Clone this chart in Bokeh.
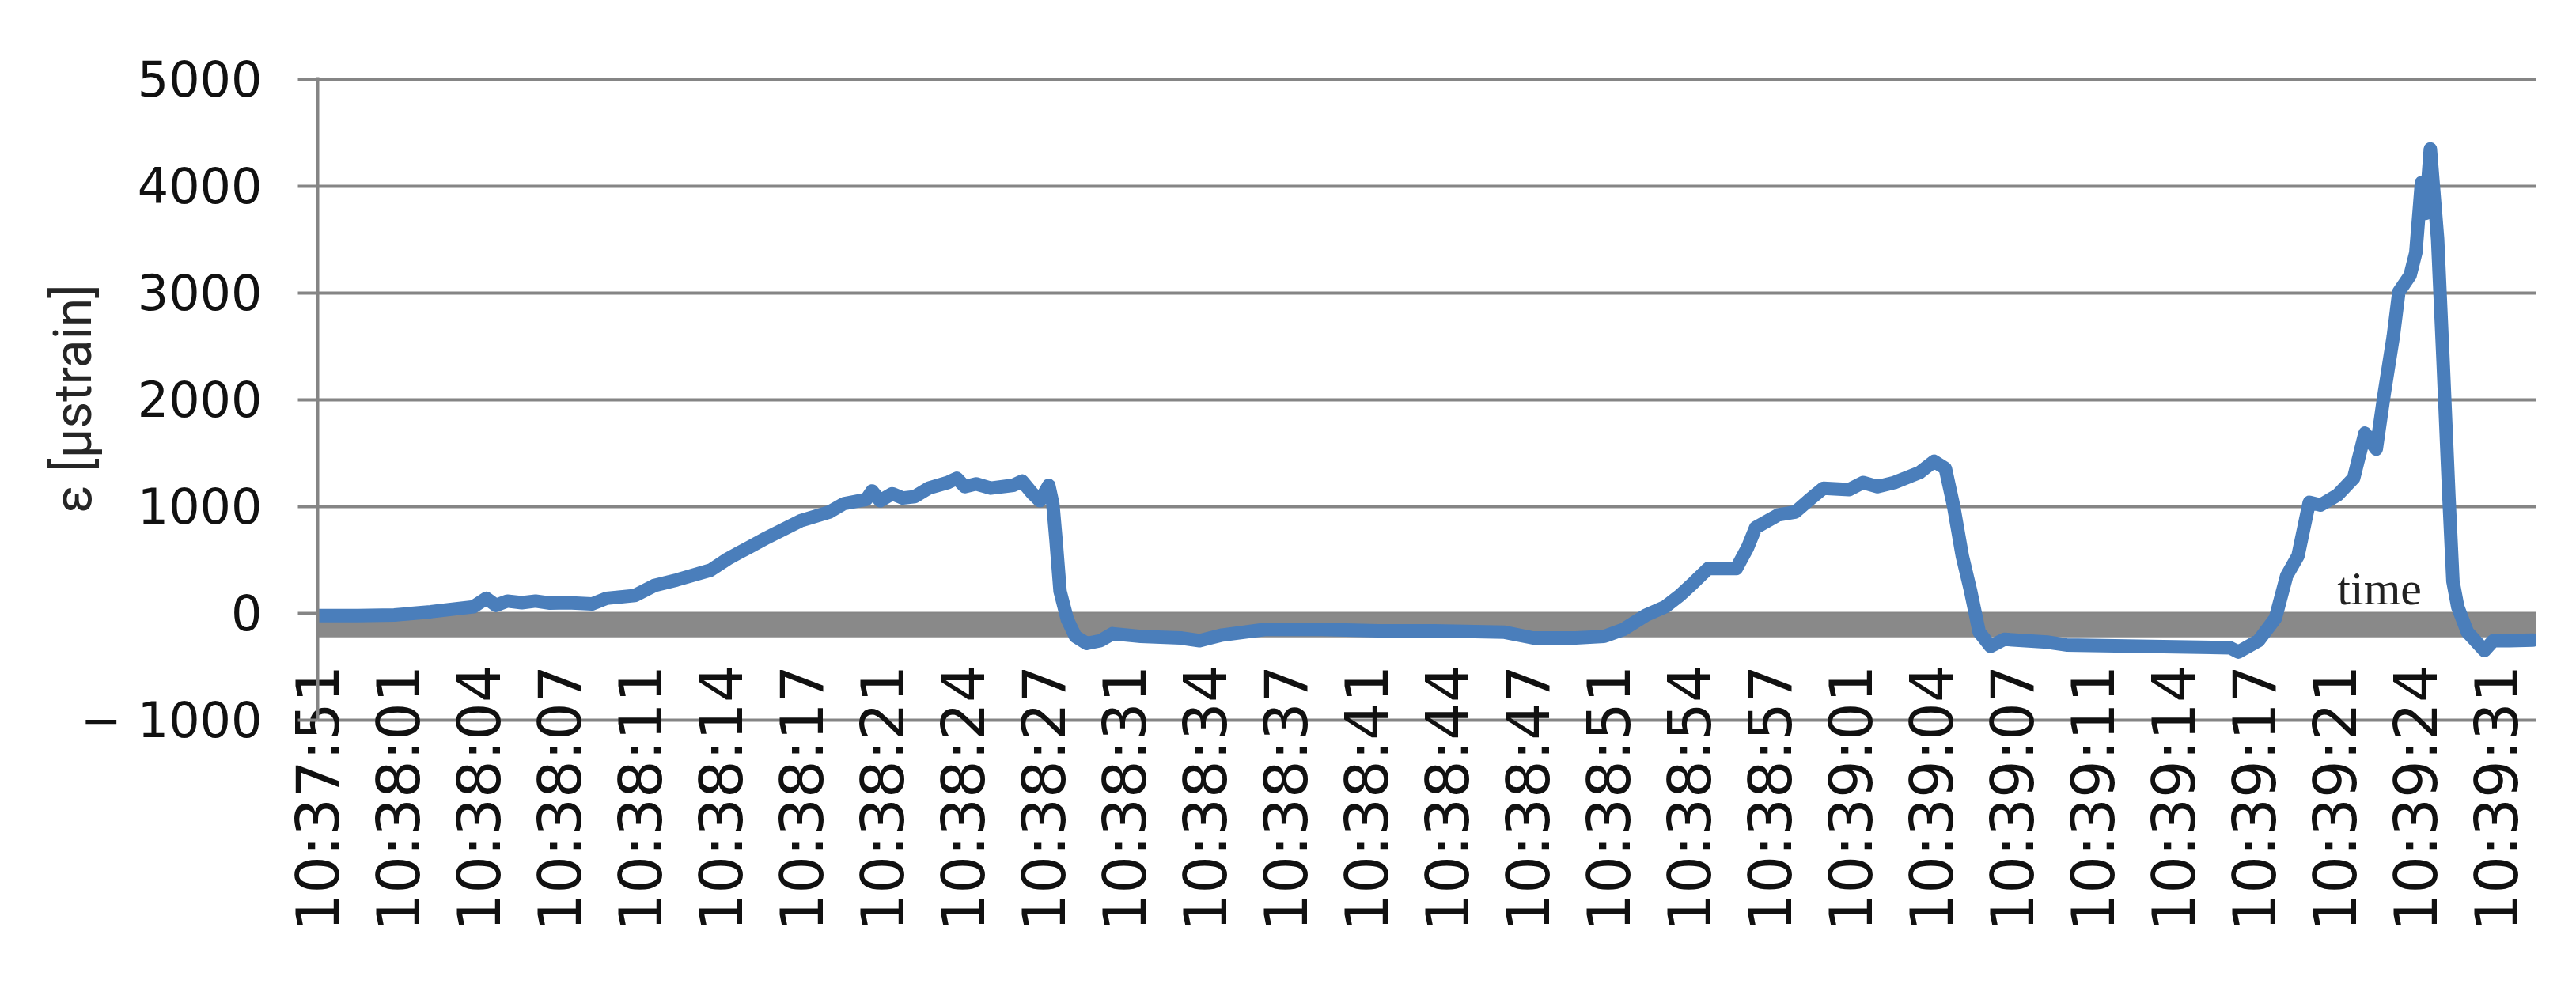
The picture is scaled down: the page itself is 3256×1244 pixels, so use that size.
import math
from bokeh.plotting import figure
from bokeh.models import Range1d, FixedTicker, BoxAnnotation, Label
from bokeh.embed import file_html
from bokeh.resources import INLINE

# ---- data ----
# sample position (10 samples between consecutive time labels)
sample_pos = [
    0, 5, 9.5, 14, 19.3, 20.9, 22.1, 23.5, 25.3, 27, 28.8, 31, 34, 35.8, 39.3,
    41.7, 44.5, 48.7, 50.8, 52, 53.5, 55.7, 59.9, 63.4, 65.2, 68, 68.7, 69.7,
    71.2, 72.5, 74, 75.7, 78.1, 79.2, 80.2, 81.6, 83.4, 86.2, 87.3, 88.6, 89.5,
    90.6, 91.1, 91.5, 92, 92.9, 93.9, 95.3, 97, 98.5, 102, 106.9, 109.3, 112.1,
    117.4, 124.4, 131.4, 138.4, 147.1, 150.6, 155.9, 159.4, 161.8, 164.6, 167,
    168.8, 170.5, 172.3, 175.8, 177.2, 178.2, 181, 183.1, 184.9, 186.6, 189.8,
    191.5, 193.3, 195.4, 198.5, 200.3, 201.7, 202.7, 203.8, 204.8, 205.9, 207.3,
    209, 214.3, 216.7, 227.2, 237, 238, 240.5, 242.6, 244, 245.4, 246.8, 248.2,
    250.3, 252.3, 253.7, 255.1, 256.1, 257.2, 257.9, 259.3, 260, 260.7, 261.2,
    261.8, 262.7, 263.4, 264.1, 264.6, 265.2, 266.4, 268.5, 269.6, 271.6, 274.5,
]
strain = [
    -20, -20, -15, 15, 62, 141, 75, 115, 100, 115, 96, 100, 88, 141, 167,
    260, 313, 405, 510, 560, 620, 710, 868, 948, 1027, 1067, 1146, 1054,
    1120, 1080, 1093, 1172, 1225, 1265, 1186, 1212, 1172, 1199, 1238, 1120, 1054,
    1199, 1027, 683, 207, -57, -216, -282, -256, -190, -216, -230, -256, -203,
    -150, -150, -163, -163, -177, -230, -230, -216, -150, -17, 62,
    168, 287, 419, 419, 617, 803, 922, 948, 1067, 1172, 1159,
    1225, 1186, 1225, 1318, 1424, 1357, 1014, 538, 221, -176, -309,
    -243, -269, -296, -309, -322, -362, -256, -45, 352, 538, 1040, 1014,
    1107, 1267, 1687, 1537, 2063, 2588, 3009, 3166, 3376, 4033, 3744,
    4348, 3508, 2326, 1096, 300, 60, -176, -349, -256, -256, -250,
]

time_labels = [
    "10:37:51", "10:38:01", "10:38:04", "10:38:07", "10:38:11", "10:38:14",
    "10:38:17", "10:38:21", "10:38:24", "10:38:27", "10:38:31", "10:38:34",
    "10:38:37", "10:38:41", "10:38:44", "10:38:47", "10:38:51", "10:38:54",
    "10:38:57", "10:39:01", "10:39:04", "10:39:07", "10:39:11", "10:39:14",
    "10:39:17", "10:39:21", "10:39:24", "10:39:31",
]
label_step = 10
y_ticks = [-1000, 0, 1000, 2000, 3000, 4000, 5000]

GRID = "#858585"
BLUE = "#4a7ebb"

p = figure(
    width=3240, height=1228,
    output_backend="svg", toolbar_location=None,
    x_range=Range1d(0, 274.9), y_range=Range1d(-1000, 5020),
    min_border_left=401, min_border_right=35,
    min_border_top=97, min_border_bottom=318,
)
p.outline_line_color = None
p.background_fill_color = "white"
p.border_fill_color = "white"

# grey band just below zero
p.add_layout(BoxAnnotation(bottom=-225, top=0, fill_color="#898989", fill_alpha=1.0,
                           line_color=None, level="underlay"))

p.line(sample_pos, strain, line_color=BLUE, line_width=17, line_join="round",
       line_cap="round")

# grids
p.xgrid.visible = False
p.ygrid.ticker = FixedTicker(ticks=y_ticks)
p.ygrid.grid_line_color = GRID
p.ygrid.grid_line_width = 4

# y axis
ya = p.yaxis[0]
ya.ticker = FixedTicker(ticks=y_ticks)
ya.major_label_overrides = {-1000: "\u2212 1000"}
ya.major_label_text_font = "DejaVu Sans"
ya.major_label_text_font_size = "62px"
ya.major_label_text_color = "#111111"
ya.major_label_standoff = 45
ya.major_tick_out = 25
ya.major_tick_in = 0
ya.major_tick_line_color = GRID
ya.major_tick_line_width = 4
ya.minor_tick_line_color = None
ya.axis_line_color = GRID
ya.axis_line_width = 4
ya.axis_label = "\u03b5 [\u00b5strain]"
ya.axis_label_text_font = "Roboto"
ya.axis_label_text_font_style = "normal"
ya.axis_label_text_font_size = "66px"
ya.axis_label_text_color = "#262626"
ya.axis_label_standoff = -32

# x axis
xa = p.xaxis[0]
tick_pos = [i * label_step for i in range(len(time_labels))]
xa.ticker = FixedTicker(ticks=tick_pos)
xa.major_label_overrides = {t: lab for t, lab in zip(tick_pos, time_labels)}
xa.major_label_orientation = math.pi / 2
xa.major_label_text_font = "DejaVu Sans"
xa.major_label_text_font_size = "75px"
xa.major_label_text_color = "#111111"
xa.major_label_standoff = -70
xa.major_tick_in = 0
xa.major_tick_out = 0
xa.minor_tick_line_color = None
xa.axis_line_color = GRID
xa.axis_line_width = 4

p.add_layout(Label(x=255.5, y=230, text="time", text_font="Liberation Serif",
                   text_font_size="60px", text_align="center",
                   text_baseline="alphabetic", text_color="#222222"))

open("out.html", "w").write(file_html(p, INLINE))
